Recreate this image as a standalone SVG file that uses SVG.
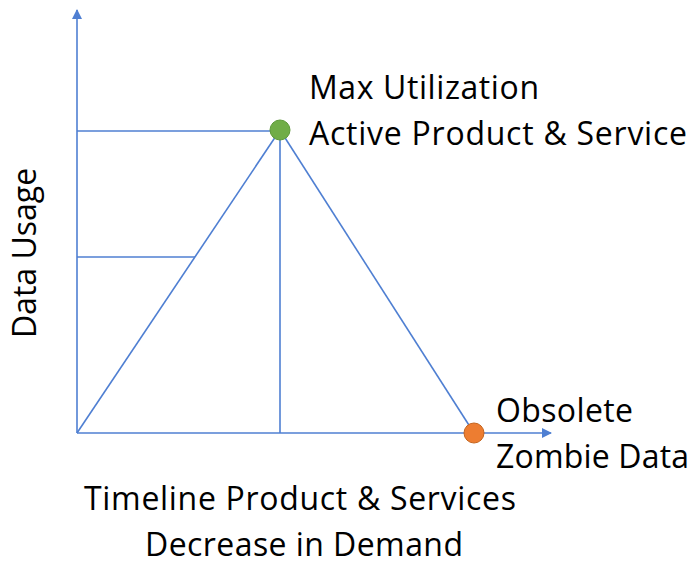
<svg xmlns="http://www.w3.org/2000/svg" width="695" height="565" viewBox="0 0 695 565">
  <style>
    .ln { stroke: #4F7FD2; stroke-width: 1.6; fill: none; }
    .lbl { font-family: "Open Sans", "Liberation Sans", sans-serif; font-size: 32px; fill: #000; }
  </style>
  <defs>
    <marker id="arr" markerWidth="10" markerHeight="10" refX="9" refY="5" orient="auto" markerUnits="userSpaceOnUse">
      <path d="M0,0 L10,5 L0,10 Z" fill="#4F7FD2"/>
    </marker>
  </defs>
  <rect width="695" height="565" fill="#fff"/>
  <g id="connectors">
    <line class="ln" x1="77" y1="433" x2="77" y2="10" marker-end="url(#arr)"/>
    <line class="ln" x1="77" y1="433" x2="551" y2="433" marker-end="url(#arr)"/>
    <line class="ln" x1="77" y1="131" x2="280" y2="131"/>
    <line class="ln" x1="77" y1="257" x2="195" y2="257"/>
    <line class="ln" x1="77" y1="433" x2="280" y2="130"/>
    <line class="ln" x1="280" y1="130" x2="280" y2="433"/>
    <line class="ln" x1="280" y1="130" x2="474" y2="433"/>
  </g>
  <g id="peak">
    <circle cx="280" cy="130" r="10" fill="#70AD47" stroke="#5E9A3A" stroke-width="1"/>
    <text class="lbl" x="309" y="99" textLength="230">Max Utilization</text>
    <text class="lbl" x="309" y="145" textLength="378">Active Product &amp; Service</text>
  </g>
  <g id="obsolete">
    <circle cx="474" cy="433" r="10" fill="#ED7D31" stroke="#C5651F" stroke-width="1"/>
    <text class="lbl" x="496" y="422" textLength="137">Obsolete</text>
    <text class="lbl" x="496" y="468" textLength="193">Zombie Data</text>
  </g>
  <g id="y-label">
    <text class="lbl" transform="translate(36,253) rotate(-90)" text-anchor="middle">Data Usage</text>
  </g>
  <g id="x-label">
    <text class="lbl" x="300" y="510" text-anchor="middle" textLength="432">Timeline Product &amp; Services</text>
    <text class="lbl" x="304" y="556" text-anchor="middle" textLength="318">Decrease in Demand</text>
  </g>
</svg>
